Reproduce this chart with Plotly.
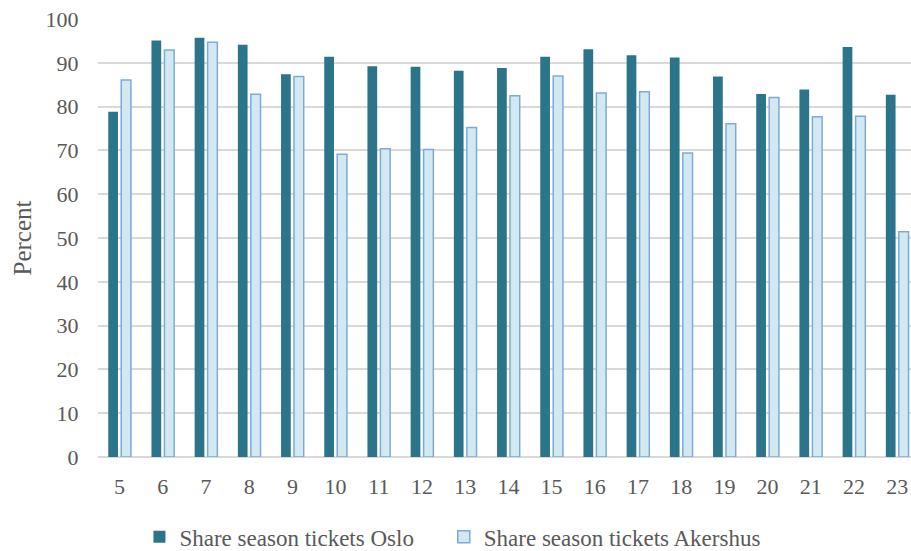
import plotly.graph_objects as go

# Hours / categories on the x axis
categories = [str(h) for h in range(5, 24)]

# Share of season tickets (percent)
oslo = [78.8, 95.1, 95.7, 94.1, 87.4, 91.4, 89.2, 89.1, 88.2, 88.8,
        91.4, 93.1, 91.7, 91.2, 86.9, 82.9, 83.9, 93.6, 82.7]
akershus = [86.1, 92.9, 94.7, 82.8, 86.9, 69.1, 70.4, 70.2, 75.2, 82.5,
            87.0, 83.1, 83.4, 69.4, 76.1, 82.1, 77.7, 77.8, 51.4]

y_ticks = list(range(0, 101, 10))

FONT = "Liberation Serif"
TEXT_GREY = "#595959"
GRID = "#D9D9D9"

fig = go.Figure()
fig.add_trace(go.Bar(
    x=categories, y=oslo, name="Share season tickets Oslo",
    marker=dict(color="#2B7489", line=dict(width=0)),
    legend="legend",
))
fig.add_trace(go.Bar(
    x=categories, y=akershus, name="Share season tickets Akershus",
    marker=dict(color="#D2E9F1", line=dict(color="#7FA9D9", width=1.5)),
    legend="legend2",
))

legend_style = dict(
    orientation="h", xanchor="left", y=-0.182, yanchor="middle",
    font=dict(family=FONT, size=23, color=TEXT_GREY),
    itemclick=False, bgcolor="rgba(0,0,0,0)",
)

fig.update_layout(
    width=911, height=551,
    margin=dict(l=98, r=0, t=19, b=94, autoexpand=False),
    paper_bgcolor="white", plot_bgcolor="white",
    barmode="group", bargap=0.40, bargroupgap=0.25,
    font=dict(family=FONT, color=TEXT_GREY, size=22),
    showlegend=True,
    legend=dict(x=0.051, **legend_style),
    legend2=dict(x=0.4253, **legend_style),
    xaxis=dict(
        type="category", range=[-0.5, 18.32],
        showgrid=False, showline=False, zeroline=False,
        ticks="outside", ticklen=10, tickcolor="rgba(0,0,0,0)",
        tickfont=dict(family=FONT, size=22, color=TEXT_GREY),
        fixedrange=True,
    ),
    yaxis=dict(
        range=[0, 100], tickvals=y_ticks,
        showgrid=True, gridcolor=GRID, gridwidth=1.5,
        zeroline=True, zerolinecolor=GRID, zerolinewidth=1.5,
        showline=False,
        ticks="outside", ticklen=14, tickcolor="rgba(0,0,0,0)",
        tickfont=dict(family=FONT, size=22, color=TEXT_GREY),
        title=dict(text="Percent", font=dict(family=FONT, size=25, color=TEXT_GREY),
                   standoff=6),
        fixedrange=True,
    ),
)

fig.write_html("out.html")
